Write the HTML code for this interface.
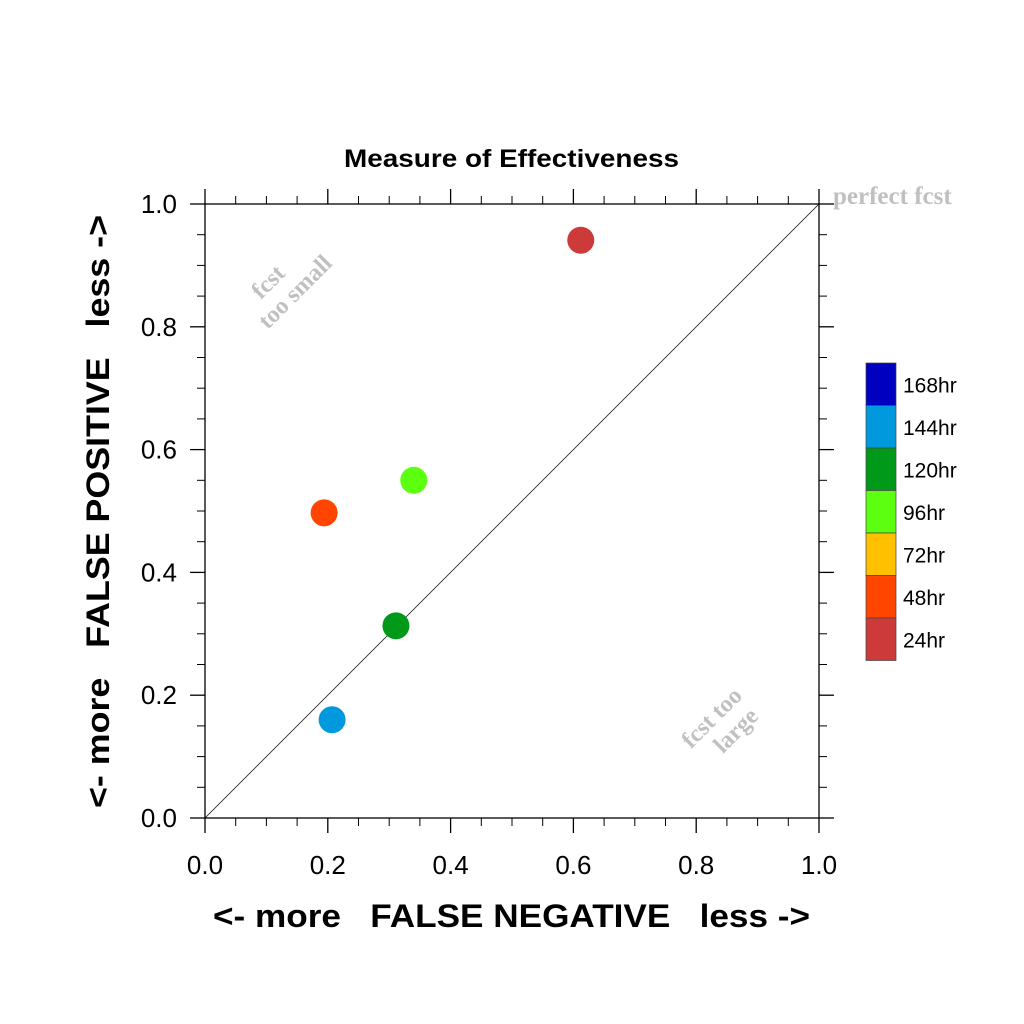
<!DOCTYPE html>
<html><head><meta charset="utf-8"><style>
html,body{margin:0;padding:0;background:#fff;}
svg{display:block;font-family:"Liberation Sans",sans-serif;}
</style></head><body>
<svg id="chart" width="1024" height="1024" viewBox="0 0 1024 1024">
<text x="344" y="167" textLength="335" lengthAdjust="spacingAndGlyphs" font-size="25" font-weight="bold">Measure of Effectiveness</text>
<g id="axes"></g>
<line x1="205" y1="818" x2="819" y2="204" stroke="#000" stroke-width="0.7"/>
<g id="points"></g>
<text x="833" y="204" font-family="Liberation Serif,serif" font-weight="bold" font-size="25" fill="#c0c0c0">perfect fcst</text>
<g transform="translate(292,286) rotate(-45)" fill="#c0c0c0" font-family="Liberation Serif,serif" font-weight="bold" font-size="24" text-anchor="middle">
<text x="-14" y="-12">fcst</text><text x="-2" y="14">too small</text></g>
<g transform="translate(720,726) rotate(-45)" fill="#c0c0c0" font-family="Liberation Serif,serif" font-weight="bold" font-size="24" text-anchor="middle">
<text x="0" y="-4">fcst too</text><text x="8" y="22">large</text></g>
<text x="213" y="927" textLength="597" lengthAdjust="spacingAndGlyphs" font-size="32" font-weight="bold" xml:space="preserve">&lt;- more   FALSE NEGATIVE   less -&gt;</text>
<text transform="translate(109,808) rotate(-90)" textLength="593" lengthAdjust="spacingAndGlyphs" font-size="32" font-weight="bold" xml:space="preserve">&lt;- more   FALSE POSITIVE   less -&gt;</text>
<g id="legend"></g>
</svg>
<script>
const ticks=[0,0.2,0.4,0.6,0.8,1.0];
const tickLabels=["0.0","0.2","0.4","0.6","0.8","1.0"];
const ptX=[0.612,0.194,0.340,0.311,0.207];
const ptY=[0.941,0.497,0.550,0.313,0.160];
const ptColors=["#cc3a3a","#ff4500","#5cff10","#00991a","#0099dd"];
const ptNames=["24hr","48hr","96hr","120hr","144hr"];
const legLabels=["168hr","144hr","120hr","96hr","72hr","48hr","24hr"];
const legColors=["#0000c0","#0099dd","#00991a","#5cff10","#ffc000","#ff4500","#cc3a3a"];
const NS="http://www.w3.org/2000/svg";
const L=205,R=819,T=204,B=818;
const sx=v=>L+v*(R-L), sy=v=>B-v*(B-T);
function mk(tag,at,parent){const e=document.createElementNS(NS,tag);for(const k in at)e.setAttribute(k,at[k]);parent.appendChild(e);return e;}
const ax=document.getElementById('axes');
const fr=mk('rect',{x:L,y:T,width:R-L,height:B-T,fill:'none',stroke:'#000','stroke-width':1.3},ax);


for(let i=0;i<=20;i++){
  const v=i*0.05, maj=i%4===0, len=maj?15:8;
  const x=sx(v), y=sy(v);
  const segs=[[x,B,x,B+len],[x,T,x,T-len],[L,y,L-len,y],[R,y,R+len,y]];
  segs.forEach(s=>{const l=mk('line',{x1:s[0],y1:s[1],x2:s[2],y2:s[3],stroke:'#000','stroke-width':maj?1.3:1},ax);
    
    });
}
ticks.forEach((v,i)=>{
  const tx=mk('text',{x:sx(v),y:874,'text-anchor':'middle','font-size':26},ax);tx.textContent=tickLabels[i];
  
  
  const ty=mk('text',{x:177,y:sy(v)+9,'text-anchor':'end','font-size':26},ax);ty.textContent=tickLabels[i];
  
  
});
const pg=document.getElementById('points');
ptX.forEach((v,i)=>{
  const c=mk('circle',{cx:sx(v),cy:sy(ptY[i]),r:13.5,fill:ptColors[i]},pg);
  
  
});
const lg=document.getElementById('legend');
const bh=42.5;
legLabels.forEach((lab,i)=>{
  const r=mk('rect',{x:866,y:363+i*bh,width:30,height:bh,fill:legColors[i],stroke:'#444','stroke-width':0.7},lg);
  
  
  const t=mk('text',{x:903,y:363+i*bh+bh/2+8,'font-size':21},lg);t.textContent=lab;
  
  
});
</script>
</body></html>
